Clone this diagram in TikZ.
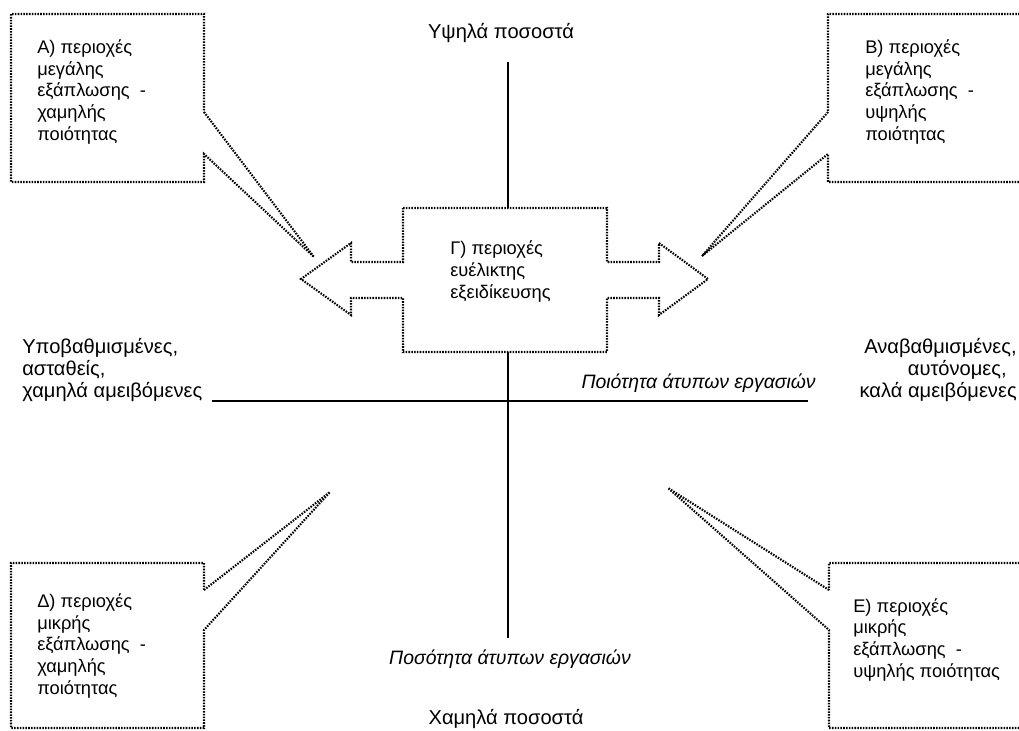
\documentclass[tikz,border=0pt]{standalone}
\usepackage{fontspec}
\setmainfont{Liberation Sans}
\usetikzlibrary{positioning}

\begin{document}
\begin{tikzpicture}[
  x=0.025cm,y=-0.025cm,
  font=\fontsize{13}{15.4}\selectfont,
  dotline/.style={line width=1.5pt,dash pattern=on 1.1pt off 0.9pt,line join=miter},
  haxis/.style={line width=1.4pt},
  vaxis/.style={line width=1pt},
  txt/.style={inner sep=0pt,align=left},
  bigtxt/.style={inner sep=0pt,font=\fontsize{14.3}{15.6}\selectfont},
  axlbl/.style={inner sep=0pt,font=\fontsize{13.8}{15.6}\selectfont\itshape}
]
\useasboundingbox (0,0) rectangle (1019,730);
\clip (0,0) rectangle (1019,730);
% centre box with the two side arrows
\node[inner sep=0pt,minimum width=5.1cm,minimum height=3.6cm] (flex) at (505,280) {};
\draw[dotline] (403,208) -- (607,208) -- (607,262) -- (659,262) -- (659,243) -- (708,279)
  -- (659,315) -- (659,298) -- (607,298) -- (607,352) -- (403,352) -- (403,298)
  -- (351,298) -- (351,315) -- (301,279) -- (351,243) -- (351,262) -- (403,262) -- cycle;
\node[txt,anchor=base west] (txtG) at (450,298) {Γ) περιοχές\\ευέλικτης\\εξειδίκευσης};
% axes
\coordinate (ytop) at (508,62);
\coordinate (ybot) at (508,638);
\coordinate (xleft) at (212,401);
\coordinate (xright) at (808,401);
\draw[haxis] (xleft) -- (xright);
\draw[vaxis] (ytop) -- (ytop |- flex.north);
\draw[vaxis] (ytop |- flex.south) -- (ybot);
\node[bigtxt,anchor=base] (high) at (501,38) {Υψηλά ποσοστά};
\node[bigtxt,anchor=base] (low) at (506,724) {Χαμηλά ποσοστά};
\node[axlbl,anchor=base] (quant) at (510,664) {Ποσότητα άτυπων εργασιών};
\node[axlbl,anchor=base east] (qual) at (816,388) {Ποιότητα άτυπων εργασιών};
\node[bigtxt,align=left,anchor=base west] (worse) at (22,397) {Υποβαθμισμένες,\\ασταθείς,\\χαμηλά αμειβόμενες};
\node[bigtxt,align=right,anchor=base east] (better) at (1017,397) {Αναβαθμισμένες,\\αυτόνομες,\rule{0.25cm}{0pt}\\καλά αμειβόμενες};
% corner callouts
\coordinate (tipA) at (314,257);
\coordinate (tipB) at (702,256);
\coordinate (tipD) at (330,492);
\coordinate (tipE) at (668,488);
\draw[dotline] (204,112) -- (tipA) -- (204,154) -- (204,182) -- (11,182) -- (11,14) -- (204,14) -- cycle;
\draw[dotline] (828,112) -- (tipB) -- (828,154) -- (828,182) -- (1040,182) -- (1040,14) -- (828,14) -- cycle;
\draw[dotline] (204,590) -- (tipD) -- (204,630) -- (204,728) -- (11,728) -- (11,563) -- (204,563) -- cycle;
\draw[dotline] (829,590) -- (tipE) -- (829,630) -- (829,728) -- (1040,728) -- (1040,563) -- (829,563) -- cycle;
\node[txt,anchor=base west] (txtA) at (37,140) {Α) περιοχές\\μεγάλης\\εξάπλωσης \ -\\χαμηλής\\ποιότητας};
\node[txt,anchor=base west] (txtB) at (865,140) {Β) περιοχές\\μεγάλης\\εξάπλωσης \ -\\υψηλής\\ποιότητας};
\node[txt,anchor=base west] (txtD) at (37,694) {Δ) περιοχές\\μικρής\\εξάπλωσης \ -\\χαμηλής\\ποιότητας};
\node[txt,anchor=base west] (txtE) at (853,677) {Ε) περιοχές\\μικρής\\εξάπλωσης \ -\\υψηλής ποιότητας};
\end{tikzpicture}
\end{document}
